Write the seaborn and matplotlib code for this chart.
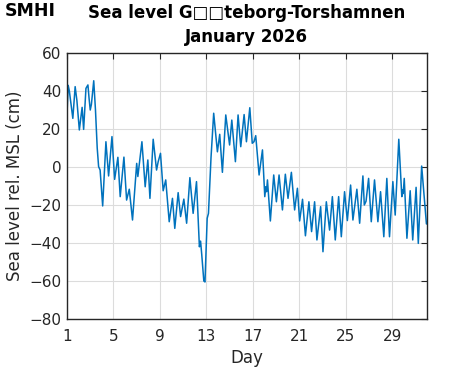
import matplotlib
matplotlib.use("Agg")
import matplotlib.pyplot as plt
import seaborn as sns
import pandas as pd

# sea level (day of month, cm rel. MSL)
day = [1.00, 1.10, 1.20, 1.50, 1.70, 1.85, 2.06, 2.30, 2.43, 2.63, 2.80, 2.90,
       3.00, 3.10, 3.30, 3.45, 3.60, 3.72, 3.85, 4.07, 4.35, 4.58, 4.87, 5.10,
       5.38, 5.58, 5.90, 6.13, 6.36, 6.64, 7.00, 7.10, 7.45, 7.73, 7.96, 8.14,
       8.42, 8.71, 8.85, 9.05, 9.28, 9.50, 9.80, 10.08, 10.28, 10.57, 10.78,
       11.06, 11.30, 11.58, 11.86, 12.15, 12.40, 12.50, 12.60, 12.78, 12.88,
       13.07, 13.18, 13.40, 13.63, 13.95, 14.15, 14.38, 14.67, 15.00, 15.19,
       15.50, 15.73, 15.96, 16.25, 16.45, 16.74, 16.95, 17.10, 17.25, 17.54,
       17.83, 18.03, 18.12, 18.18, 18.26, 18.51, 18.80, 19.03, 19.26, 19.55,
       19.80, 20.03, 20.32, 20.60, 20.84, 21.03, 21.28, 21.53, 21.83, 22.06,
       22.32, 22.52, 22.84, 23.04, 23.33, 23.61, 23.85, 24.10, 24.39, 24.62,
       24.90, 25.14, 25.42, 25.62, 25.96, 26.20, 26.48, 26.60, 26.75, 26.97,
       27.20, 27.48, 27.77, 28.00, 28.28, 28.54, 28.77, 29.06, 29.26, 29.57,
       29.83, 29.90, 29.95, 30.04, 30.27, 30.55, 30.77, 31.06, 31.25, 31.54,
       31.95]
level = [28, 43, 40, 25.6, 42.3, 35, 19.5, 31.4, 19.8, 41.4, 43.2, 36,
         30, 33, 45.4, 30, 10, 0.2, -1.6, -20.5, 13.3, -4.7, 16, -6.5,
         5.1, -15.6, 5.2, -17.4, -11.7, -27.9, 1.9, -5, 13.3, -10.4, 3.7, -16.5,
         14.6, -1.6, 2.8, 7.2, -12.5, -6.8, -28.8, -16.5, -32.3, -13.5, -26.1,
         -16.9, -29.6, -5.6, -24.4, -7.7, -42, -39, -46, -60, -60.5,
         -27, -24.4, 5, 28.3, 8, 17.2, -2.8, 27.4, 11.6, 24.7,
         2.8, 27.4, 10.7, 27.6, 13.3, 31.2, 12.5, 13.3, 16.5, -4.2,
         9, -15.6, -10.4, -13, -6.8, -28.4, -4.2, -18.3, -4.2, -22.6,
         -3.8, -16.5, -2.8, -22.6, -11.2, -28.4, -17, -36.2, -18.3, -34,
         -18.3, -38.4, -20.9, -44.6, -18.3, -33.2, -15.6, -38.4, -15.6, -36.7,
         -13, -28.2, -9.5, -27.9, -11.7, -29.6, -4.7, -20, -18, -6,
         -28.8, -6.8, -28.8, -13, -36.7, -6, -36.7, -7.7, -25.3, 14.6,
         -15.6, -12, -14, -6, -37.5, -12.5, -38.4, -10.7, -40.2, 0.5,
         -30]

xticks = [1, 5, 9, 13, 17, 21, 25, 29]
yticks = [-80, -60, -40, -20, 0, 20, 40, 60]

sns.set_theme(style="white")
plt.rcParams['font.family'] = ['DejaVu Sans']

df = pd.DataFrame({'day': day, 'level': level})

fig = plt.figure(figsize=(4.71, 3.71), dpi=100)
ax = fig.add_axes([0.1423, 0.1402, 0.7643, 0.7169])

sns.lineplot(data=df, x='day', y='level', ax=ax, color='#0072BD', linewidth=1.1)

ax.set_xlim(1, 32)
ax.set_ylim(-80, 60)
ax.set_xticks(xticks)
ax.set_yticks(yticks)
ax.set_yticklabels([str(t).replace('-', '\u2212') for t in yticks])
ax.grid(True, color='#dcdcdc', linewidth=0.8)
ax.tick_params(direction='in', length=4, width=0.8, colors='#262626',
               labelsize=11, top=True, right=True)
ax.tick_params(axis='x', pad=7)
ax.tick_params(axis='y', pad=4)
for s in ax.spines.values():
    s.set_color('#262626')
    s.set_linewidth(1.0)

ax.set_xlabel('Day', fontsize=12, color='#262626', labelpad=4)
ax.set_ylabel('Sea level rel. MSL (cm)', fontsize=12, color='#262626', labelpad=4)

fig.text(0.524, 0.965, 'Sea level G\u25a1\u25a1teborg-Torshamnen', ha='center', va='center',
         fontsize=12, fontweight='bold', color='black')
fig.text(0.524, 0.900, 'January 2026', ha='center', va='center',
         fontsize=12, fontweight='bold', color='black')
fig.text(0.010, 0.970, 'SMHI', ha='left', va='center', fontsize=12.5,
         fontweight='heavy', color='black', family=['DejaVu Sans'])

fig.savefig('out.png', dpi=100)
